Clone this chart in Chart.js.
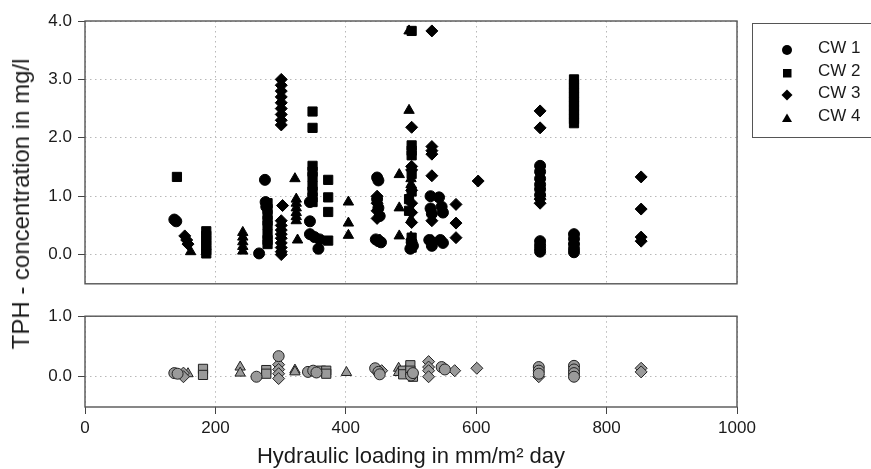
<!DOCTYPE html>
<html lang="en">
<head>
<meta charset="UTF-8">
<title>TPH concentration vs hydraulic loading</title>
<script src="https://cdn.jsdelivr.net/npm/chart.js@4.4.1/dist/chart.umd.min.js"></script>
<style>
  body { margin: 0; width: 871px; height: 469px; overflow: hidden; background: #fff; position: relative;
         font-family: "Liberation Sans", Arial, sans-serif; color: #1a1a1a; }
  canvas { position: absolute; left: 0; }
  #topChart { top: 0; }
  #bottomChart { top: 300px; }
  #yTitle { position: absolute; left: 21px; top: 204px; transform: translate(-50%, -50%) rotate(-90deg);
            font-size: 24px; white-space: nowrap; }
  #legendBox { position: absolute; left: 752px; top: 23px; width: 160px; height: 115px;
               border: 1.5px solid #555; box-sizing: border-box; }
  .lg-mark { position: absolute; }
  .lg-text { position: absolute; left: 818px; height: 22px; line-height: 22px; font-size: 17px; }
</style>
</head>
<body>
<canvas id="topChart" width="871" height="300"></canvas>
<canvas id="bottomChart" width="871" height="169"></canvas>
<div id="yTitle">TPH - concentration in mg/l</div>
<div id="legendBox"></div>
<div id="legend"></div>

<script>
  // axis ticks and series names
  const xTicks = [0, 200, 400, 600, 800, 1000];
  const yTicksTop = [0, 1, 2, 3, 4];
  const yTicksBottom = [0, 1];
  const seriesNames = ['CW 1', 'CW 2', 'CW 3', 'CW 4'];

  // upper panel (black markers)
  const cw1TopX = [137, 140, 267, 276, 277, 278, 345, 345, 345, 352, 360, 358, 448, 450, 448, 450, 452, 446, 450, 454,
                   501, 503, 499, 530, 530, 532, 528, 532, 543, 547, 549, 545, 549,
                   698, 698, 698, 698, 698, 698, 698, 698, 698, 698, 750, 750, 750, 750, 750];
  const cw1TopY = [0.60, 0.57, 0.02, 1.28, 0.90, 0.82, 0.90, 0.57, 0.35, 0.30, 0.26, 0.10, 1.32, 1.27, 0.95, 0.80, 0.66, 0.26, 0.23, 0.21,
                   0.21, 0.15, 0.10, 1.00, 0.79, 0.70, 0.25, 0.15, 0.98, 0.82, 0.72, 0.25, 0.20,
                   1.52, 1.42, 1.30, 1.20, 1.12, 1.02, 0.23, 0.16, 0.10, 0.05, 0.35, 0.27, 0.18, 0.10, 0.04];

  const cw2TopX = [141, 186, 186, 186, 186, 186, 186, 280, 280, 280, 280, 280, 280, 280, 280,
                   349, 349, 349, 349, 349, 349, 349, 349, 349, 373, 373, 373, 373,
                   501, 501, 501, 501, 501, 501, 501, 501, 501, 497, 497,
                   750, 750, 750, 750, 750, 750, 750, 750, 750, 750, 750];
  const cw2TopY = [1.33, 0.40, 0.32, 0.24, 0.16, 0.08, 0.02, 0.88, 0.78, 0.68, 0.58, 0.50, 0.35, 0.25, 0.18,
                   2.45, 2.17, 1.52, 1.42, 1.33, 1.18, 1.08, 0.98, 0.90, 1.28, 0.98, 0.73, 0.24,
                   3.83, 1.87, 1.78, 1.70, 1.38, 1.08, 0.29, 0.18, 0.12, 0.95, 0.75,
                   3.00, 2.92, 2.85, 2.77, 2.70, 2.62, 2.55, 2.47, 2.40, 2.32, 2.25];

  const cw3TopX = [153, 156, 158, 301, 301, 301, 301, 301, 301, 301, 301, 301, 303,
                   301, 301, 301, 301, 301, 301, 301, 301, 301, 448, 448, 448, 448, 452,
                   501, 501, 501, 501, 501, 501, 501, 532, 532, 532, 532, 532, 532, 532, 532,
                   569, 569, 569, 603, 698, 698, 698, 698, 853, 853, 853, 853];
  const cw3TopY = [0.32, 0.25, 0.18, 3.00, 2.90, 2.80, 2.70, 2.60, 2.50, 2.40, 2.30, 2.22, 0.84,
                   0.58, 0.50, 0.42, 0.35, 0.28, 0.20, 0.12, 0.05, 0.00, 1.00, 0.88, 0.75, 0.62, 0.25,
                   2.18, 1.51, 1.45, 1.10, 0.88, 0.72, 0.55, 3.83, 1.85, 1.78, 1.72, 1.35, 0.58, 0.24, 0.20,
                   0.86, 0.54, 0.29, 1.26, 2.46, 2.17, 0.95, 0.88, 1.33, 0.78, 0.30, 0.23];

  const cw4TopX = [162, 242, 242, 242, 242, 242, 322, 324, 324, 324, 324, 324, 324, 326,
                   404, 404, 404, 482, 482, 482, 497, 497, 500, 500, 500, 500];
  const cw4TopY = [0.05, 0.38, 0.30, 0.22, 0.14, 0.06, 1.30, 0.95, 0.88, 0.80, 0.72, 0.65, 0.58, 0.25,
                   0.90, 0.54, 0.33, 1.37, 0.80, 0.32, 3.83, 2.47, 1.30, 1.20, 0.60, 0.30];

  // lower panel (grey markers)
  const cw1BotX = [137, 142, 263, 297, 342, 350, 355, 445, 450, 452, 500, 503, 547, 552, 696, 696, 696, 750, 750, 750, 750];
  const cw1BotY = [0.06, 0.05, 0.00, 0.34, 0.08, 0.10, 0.07, 0.14, 0.08, 0.04, 0.02, 0.06, 0.16, 0.12, 0.16, 0.10, 0.05, 0.18, 0.12, 0.06, 0.00];
  const cw2BotX = [181, 181, 278, 278, 362, 370, 370, 488, 488, 499, 499, 503, 750, 750];
  const cw2BotY = [0.13, 0.03, 0.11, 0.05, 0.10, 0.10, 0.05, 0.10, 0.04, 0.19, 0.10, 0.00, 0.15, 0.03];
  const cw3BotX = [151, 151, 297, 297, 297, 297, 455, 527, 527, 527, 527, 567, 601, 696, 853, 853];
  const cw3BotY = [0.06, 0.00, 0.20, 0.12, 0.05, -0.03, 0.10, 0.25, 0.16, 0.10, 0.00, 0.10, 0.14, 0.00, 0.14, 0.08];
  const cw4BotX = [158, 238, 238, 322, 322, 401, 481, 481, 492, 499, 696, 750];
  const cw4BotY = [0.05, 0.16, 0.06, 0.11, 0.08, 0.07, 0.14, 0.07, 0.10, 0.05, 0.08, 0.08];

  const FONT = '"Liberation Sans", Arial, sans-serif';
  const shapes = ['circle', 'rect', 'rectRot', 'triangle'];
  const radii = [5.5, 6.5, 6, 6];
  const gridColor = '#b8b8b8';
  const gridDash = [1.5, 3.5];

  function pts(xs, ys) {
    return xs.map((x, i) => ({ x: x, y: ys[i] }));
  }

  function makeSets(pairs, fill, stroke) {
    return pairs.map((p, i) => ({
      label: seriesNames[i],
      data: pts(p[0], p[1]),
      pointStyle: shapes[i],
      pointRadius: radii[i],
      backgroundColor: fill,
      borderColor: stroke,
      borderWidth: 1,
      showLine: false
    }));
  }

  // frame round the plot area
  const boxPlugin = {
    id: 'box',
    afterDatasetsDraw(chart) {
      const { ctx, chartArea: a } = chart;
      ctx.save();
      ctx.strokeStyle = '#555';
      ctx.lineWidth = 1.4;
      ctx.strokeRect(a.left, a.top, a.right - a.left, a.bottom - a.top);
      ctx.restore();
    }
  };

  function yScale(min, max, ticks) {
    return {
      min: min, max: max,
      afterBuildTicks: s => { s.ticks = ticks.map(v => ({ value: v })); },
      afterFit: s => { s.width = 85; },
      ticks: { callback: v => v.toFixed(1), font: { size: 17, family: FONT }, color: '#1a1a1a', padding: 6 },
      grid: { color: gridColor, tickColor: '#444', tickLength: 7, tickBorderDash: [] },
      border: { display: false, dash: gridDash }
    };
  }

  const common = {
    responsive: false,
    animation: false,
    devicePixelRatio: 1,
    plugins: { legend: { display: false }, tooltip: { enabled: false } }
  };

  new Chart(document.getElementById('topChart'), {
    type: 'scatter',
    data: {
      datasets: makeSets([[cw1TopX, cw1TopY], [cw2TopX, cw2TopY], [cw3TopX, cw3TopY], [cw4TopX, cw4TopY]], '#000', '#000')
    },
    options: Object.assign({}, common, {
      layout: { padding: { left: 0, right: 134, top: 21, bottom: 9 } },
      scales: {
        x: {
          type: 'linear', min: 0, max: 1000,
          afterBuildTicks: s => { s.ticks = xTicks.map(v => ({ value: v })); },
          afterFit: s => { s.height = 0; },
          ticks: { display: false },
          grid: { color: gridColor, drawTicks: false },
          border: { display: false, dash: gridDash }
        },
        y: yScale(-0.5, 4, yTicksTop)
      }
    }),
    plugins: [boxPlugin]
  });

  new Chart(document.getElementById('bottomChart'), {
    type: 'scatter',
    data: {
      datasets: makeSets([[cw1BotX, cw1BotY], [cw2BotX, cw2BotY], [cw3BotX, cw3BotY], [cw4BotX, cw4BotY]], '#9a9a9a', '#222')
    },
    options: Object.assign({}, common, {
      layout: { padding: { left: 0, right: 134, top: 13, bottom: 0 } },
      scales: {
        x: {
          type: 'linear', min: 0, max: 1000,
          afterBuildTicks: s => { s.ticks = xTicks.map(v => ({ value: v })); },
          afterFit: s => { s.height = 62; },
          ticks: { callback: v => String(v), font: { size: 17, family: FONT }, color: '#1a1a1a', padding: 4, maxRotation: 0 },
          grid: { color: gridColor, tickColor: '#444', tickLength: 7, tickBorderDash: [] },
          border: { display: false, dash: gridDash },
          title: {
            display: true,
            text: 'Hydraulic loading in mm/m² day',
            font: { size: 22, family: FONT, lineHeight: 1 },
            color: '#1a1a1a',
            padding: { top: 0, bottom: 1 }
          }
        },
        y: yScale(-0.5, 1, yTicksBottom)
      }
    }),
    plugins: [boxPlugin]
  });

  // legend, one row per series
  const legendRowsY = [48, 71, 93, 116];
  const markSvg = [
    '<svg width="12" height="12"><circle cx="6" cy="6" r="5" fill="#000"/></svg>',
    '<svg width="12" height="12"><rect x="2" y="2" width="8.5" height="8.5" fill="#000"/></svg>',
    '<svg width="12" height="12"><polygon points="6,0.5 11.5,6 6,11.5 0.5,6" fill="#000"/></svg>',
    '<svg width="12" height="12"><polygon points="6,1.5 11,10 1,10" fill="#000"/></svg>'
  ];
  const legend = document.getElementById('legend');
  seriesNames.forEach((name, i) => {
    const m = document.createElement('div');
    m.className = 'lg-mark';
    m.style.left = '781px';
    m.style.top = (legendRowsY[i] - 6) + 'px';
    m.innerHTML = markSvg[i];
    legend.appendChild(m);
    const t = document.createElement('div');
    t.className = 'lg-text';
    t.style.top = (legendRowsY[i] - 11) + 'px';
    t.textContent = name;
    legend.appendChild(t);
  });
</script>
</body>
</html>
